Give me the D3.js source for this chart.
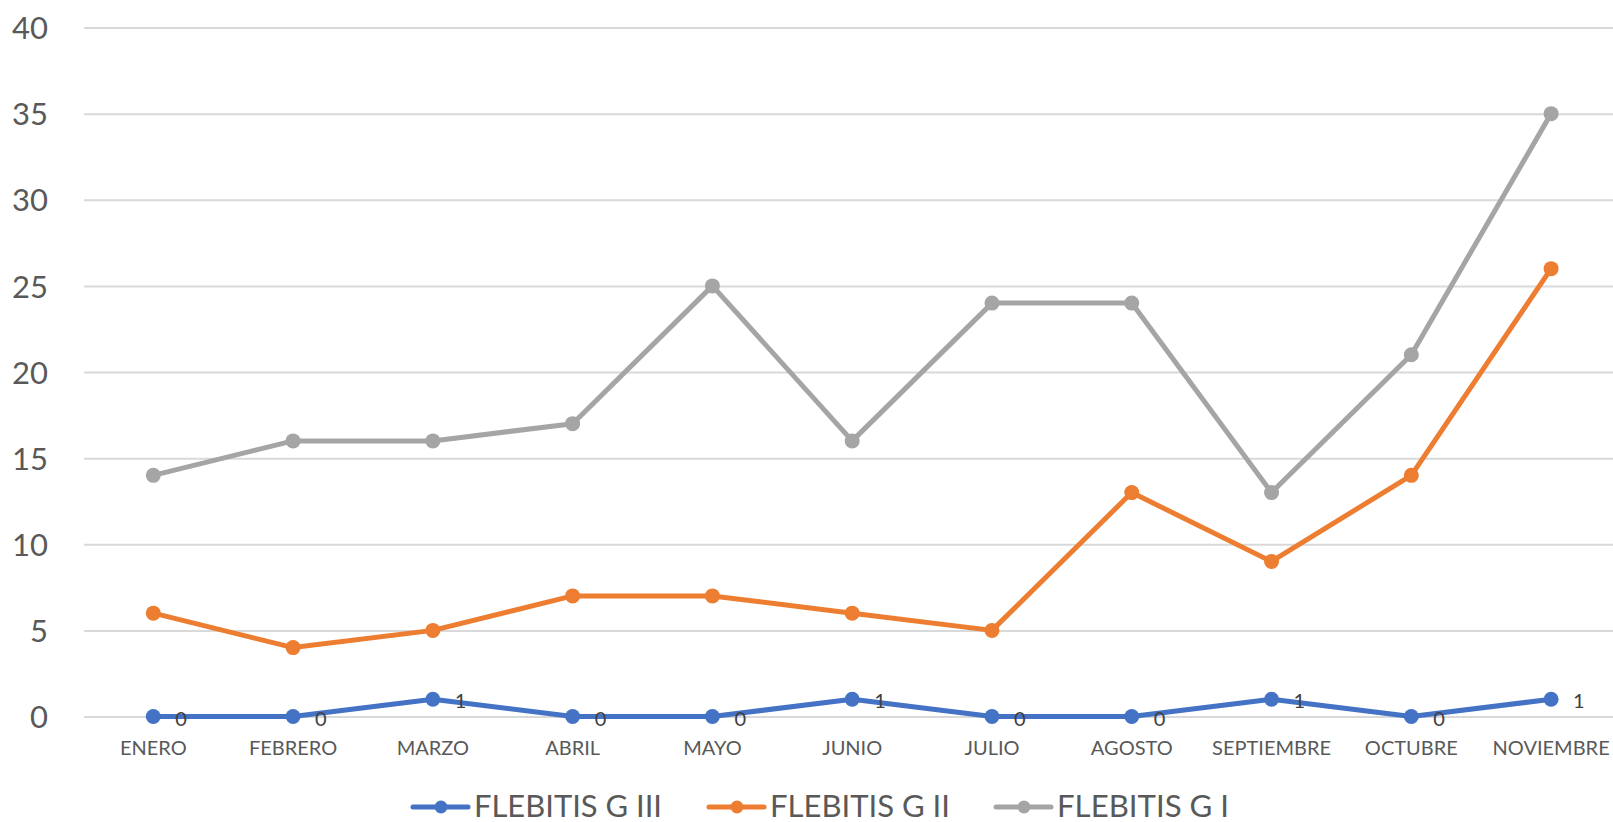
<!DOCTYPE html>
<html>
<head>
<meta charset="utf-8">
<script src="https://cdn.jsdelivr.net/npm/d3@7"></script>
<style>
  body { margin: 0; background: #fff; }
  text { font-family: Lato, "Open Sans", sans-serif; }
</style>
</head>
<body>
<div id="chart"></div>
<script>
// data
var months = ["ENERO", "FEBRERO", "MARZO", "ABRIL", "MAYO", "JUNIO", "JULIO", "AGOSTO", "SEPTIEMBRE", "OCTUBRE", "NOVIEMBRE"];
var flebitisG3 = [0, 0, 1, 0, 0, 1, 0, 0, 1, 0, 1];
var flebitisG2 = [6, 4, 5, 7, 7, 6, 5, 13, 9, 14, 26];
var flebitisG1 = [14, 16, 16, 17, 25, 16, 24, 24, 13, 21, 35];
var seriesNames = ["FLEBITIS G III", "FLEBITIS G II", "FLEBITIS G I"];
var yTicks = [0, 5, 10, 15, 20, 25, 30, 35, 40];

var series = [
    {name: seriesNames[0], values: flebitisG3, color: "#4472C4", labels: true},
    {name: seriesNames[1], values: flebitisG2, color: "#ED7D31", labels: false},
    {name: seriesNames[2], values: flebitisG1, color: "#A5A5A5", labels: false}
];

var W = 1613, H = 822;

var svg = d3.select("#chart")
    .append("svg")
    .attr("width", W)
    .attr("height", H);

// scales
var x = d3.scaleBand()
    .domain(months)
    .range([83.4, 1621])
    .padding(0);

var y = d3.scaleLinear()
    .domain([0, 40])
    .range([716.5, 27.5]);

// gridlines + y labels
var yAxis = svg.append("g")
    .attr("transform", "translate(84,0)")
    .call(d3.axisLeft(y).tickValues(yTicks).tickSize(-(W - 84)).tickFormat(d3.format("d")));
yAxis.select(".domain").remove();
yAxis.selectAll(".tick line")
    .attr("stroke", "#d9d9d9")
    .attr("stroke-width", 2);
yAxis.selectAll(".tick text")
    .attr("x", -36)
    .attr("dy", "0.36em")
    .attr("fill", "#595959")
    .style("font-size", "31px")
    .style("font-family", "Lato, sans-serif");

// x labels
var xAxis = svg.append("g")
    .attr("transform", "translate(0,716.5)")
    .call(d3.axisBottom(x).tickSize(0));
xAxis.select(".domain").remove();
xAxis.selectAll(".tick text")
    .attr("y", 0)
    .attr("dy", "38.5")
    .attr("fill", "#595959")
    .style("font-size", "20px")
    .style("font-family", "Lato, sans-serif");

// lines
var line = d3.line()
    .x(function(d, i) { return x(months[i]) + x.bandwidth() / 2; })
    .y(function(d) { return y(d); });

var groups = svg.selectAll(".serie")
    .data(series.slice().reverse())
    .enter()
    .append("g")
    .attr("class", "serie");

groups.append("path")
    .attr("d", function(d) { return line(d.values); })
    .attr("fill", "none")
    .attr("stroke", function(d) { return d.color; })
    .attr("stroke-width", 5)
    .attr("stroke-linejoin", "round")
    .attr("stroke-linecap", "round");

groups.selectAll("circle")
    .data(function(d) { return d.values.map(function(v, i) { return {v: v, i: i, color: d.color}; }); })
    .enter()
    .append("circle")
    .attr("cx", function(d) { return x(months[d.i]) + x.bandwidth() / 2; })
    .attr("cy", function(d) { return y(d.v); })
    .attr("r", 7.5)
    .attr("fill", function(d) { return d.color; });

// data labels (only G III)
groups.filter(function(d) { return d.labels; })
    .selectAll(".lbl")
    .data(function(d) { return d.values.map(function(v, i) { return {v: v, i: i}; }); })
    .enter()
    .append("text")
    .attr("class", "lbl")
    .attr("x", function(d) { return x(months[d.i]) + x.bandwidth() / 2 + 22; })
    .attr("y", function(d) { return y(d.v) + 9; })
    .attr("fill", "#404040")
    .style("font-size", "20px")
    .text(function(d) { return d.v; });

// legend
var legendX = [413, 709, 996];
var legendW = [188, 180, 172];
var legend = svg.selectAll(".legend")
    .data(series)
    .enter()
    .append("g")
    .attr("class", "legend")
    .attr("transform", function(d, i) { return "translate(" + legendX[i] + ",807)"; });

legend.append("line")
    .attr("x1", 0).attr("x2", 55)
    .attr("stroke", function(d) { return d.color; })
    .attr("stroke-width", 5)
    .attr("stroke-linecap", "round");
legend.append("circle")
    .attr("cx", 28)
    .attr("r", 6.5)
    .attr("fill", function(d) { return d.color; });
legend.append("text")
    .attr("x", 61)
    .attr("y", 10)
    .attr("fill", "#595959")
    .style("font-size", "30px")
    .attr("textLength", function(d, i) { return legendW[i]; })
    .attr("lengthAdjust", "spacingAndGlyphs")
    .text(function(d) { return d.name; });
</script>
</body>
</html>
